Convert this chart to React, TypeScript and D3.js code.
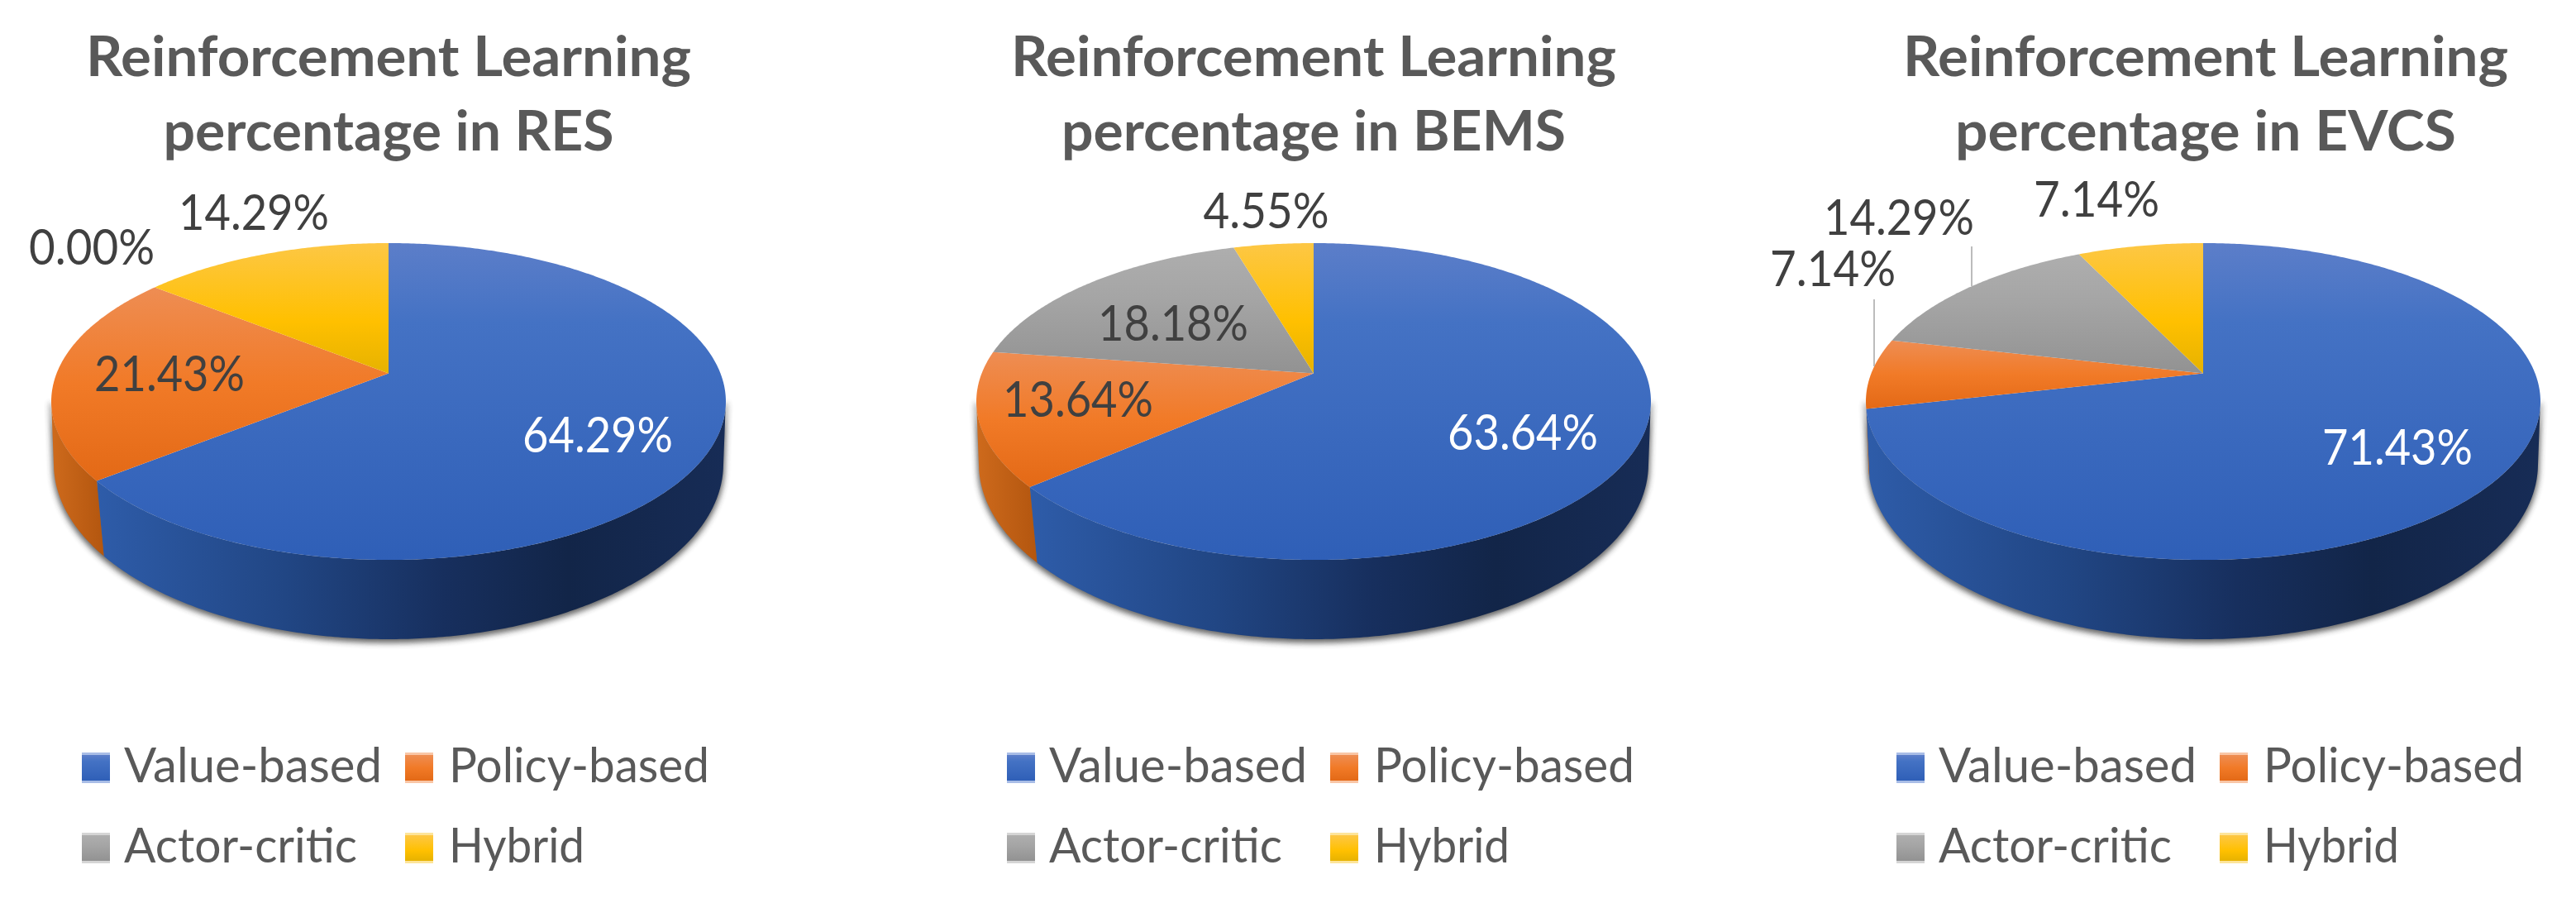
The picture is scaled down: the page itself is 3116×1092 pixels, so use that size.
import React from 'react';
import * as d3 from 'd3';

const categories = ['Value-based', 'Policy-based', 'Actor-critic', 'Hybrid'];
const chartNames = ['RES', 'BEMS', 'EVCS'];
const resValues = [64.29, 21.43, 0, 14.29];
const bemsValues = [63.64, 13.64, 18.18, 4.55];
const evcsValues = [71.43, 7.14, 14.29, 7.14];
const allValues = [resValues, bemsValues, evcsValues];

// layout, in page pixels
const centers = [470, 1589, 2665];
const titleCenters = [470, 1589, 2668];
const subtitleWidths = [545, 610, 606];
const labelPos = [
  [[723, 547], [205, 473], [111, 320], [307, 278]],
  [[1842, 544], [1304, 504], [1419, 412], [1531.5, 276]],
  [[2900, 562], [2217, 346], [2297, 284], [2536, 262]],
];
// leader lines only on the EVCS pie: [x, y1, y2]
const leaders = [[2385, 298, 346], [2267, 362, 443]];

const legendCols = [99, 490];
const legendRows = [910, 1007];
const legendTextOffsets = [51, 53];
const legendTextWidths = [312, 315, 282, 164];

const topStops = [
  ['#5c7ec9', '#4472c4', '#2f5fb7'],
  ['#ee8d53', '#f17a27', '#e36916'],
  ['#aeaeae', '#a5a5a5', '#929292'],
  ['#fdc745', '#ffc000', '#e6b200'],
];
const topMid = [0.25, 0.5, 0.4, 0.6];
const bandColors = ['#a9bde6', '#f9c6a6', '#d5d5d5', '#fde49a'];

// perspective discs: the top face and the bottom face of the cylinder
const topDisc = { apexY: 451.5, a: 185.5, b: 401.5, p: 0.1776 };
const bottomDisc = { apexY: 530.3, a: 207.5, b: 400.7, p: 0.145 };
const wallStart = (100 * Math.PI) / 180;
const wallEnd = (260 * Math.PI) / 180;

type Disc = typeof topDisc;

const project = (disc: Disc, cx: number, t: number): [number, number] => {
  const u = Math.sin(t);
  const v = -Math.cos(t);
  const w = 1 - disc.p * v;
  return [cx + (disc.b * u) / w, disc.apexY + (disc.a * v) / w];
};

const arcPoints = (disc: Disc, cx: number, t0: number, t1: number) => {
  const n = Math.max(2, Math.ceil(Math.abs(t1 - t0) / 0.01));
  return d3.range(n + 1).map(i => project(disc, cx, t0 + ((t1 - t0) * i) / n));
};

const line = d3.line();

const slicePath = (cx: number, t0: number, t1: number) =>
  line([[cx, topDisc.apexY], ...arcPoints(topDisc, cx, t0, t1)]) + 'Z';

const wallPath = (cx: number, t0: number, t1: number) =>
  line([...arcPoints(topDisc, cx, t0, t1), ...arcPoints(bottomDisc, cx, t1, t0)]) + 'Z';

const pieLayout = d3.pie<number>().sort(null).value(d => d).startAngle(0).endAngle(2 * Math.PI);

const font = 'Lato, "Open Sans", sans-serif';

const Pie = ({ index }: { index: number }) => {
  const cx = centers[index];
  const arcs = pieLayout(allValues[index]);
  const offset = cx - centers[0];

  return (
    <g>
      <path
        d={wallPath(cx, wallStart, wallEnd)}
        fill="#303030"
        stroke="#303030"
        strokeWidth={3}
        opacity={0.75}
        transform="translate(0,3)"
        filter="url(#wallShadow)"
      />
      {arcs.map((d, i) => {
        const t0 = Math.max(d.startAngle, wallStart);
        const t1 = Math.min(d.endAngle, wallEnd);
        if (t1 <= t0) return null;
        return <path key={i} d={wallPath(cx, t0, t1)} fill={`url(#wall${i})`} />;
      })}
      {arcs.map((d, i) =>
        d.endAngle > d.startAngle ? (
          <path key={i} d={slicePath(cx, d.startAngle, d.endAngle)} fill={`url(#top${i})`} />
        ) : null
      )}

      <text
        x={titleCenters[index]}
        y={92}
        textAnchor="middle"
        fontFamily={font}
        fontWeight={700}
        fontSize={67}
        fill="#595959"
        textLength={732}
        lengthAdjust="spacingAndGlyphs"
      >
        Reinforcement Learning
      </text>
      <text
        x={titleCenters[index]}
        y={182}
        textAnchor="middle"
        fontFamily={font}
        fontWeight={700}
        fontSize={67}
        fill="#595959"
        textLength={subtitleWidths[index]}
        lengthAdjust="spacingAndGlyphs"
      >
        {`percentage in ${chartNames[index]}`}
      </text>

      {index === 2 &&
        leaders.map(([x, y1, y2], i) => (
          <line key={i} x1={x} x2={x} y1={y1} y2={y2} stroke="#a6a6a6" strokeWidth={1.5} />
        ))}

      {allValues[index].map((v, i) => {
        const label = `${v.toFixed(2)}%`;
        return (
          <text
            key={i}
            x={labelPos[index][i][0]}
            y={labelPos[index][i][1]}
            textAnchor="middle"
            fontFamily={font}
            fontSize={60}
            fill={i === 0 ? '#ffffff' : '#404040'}
            textLength={label.length === 6 ? 182 : 152}
            lengthAdjust="spacingAndGlyphs"
          >
            {label}
          </text>
        );
      })}

      {categories.map((c, i) => {
        const x = legendCols[i % 2] + offset;
        const y = legendRows[Math.floor(i / 2)];
        return (
          <g key={c}>
            <rect x={x} y={y} width={34} height={37} fill={bandColors[i]} />
            <rect x={x} y={y + 3} width={34} height={31} fill={`url(#top${i})`} />
            <text
              x={x + legendTextOffsets[i % 2]}
              y={y + 36}
              fontFamily={font}
              fontSize={58}
              fill="#595959"
              textLength={legendTextWidths[i]}
              lengthAdjust="spacingAndGlyphs"
            >
              {c}
            </text>
          </g>
        );
      })}
    </g>
  );
};

export default function App() {
  return (
    <svg
      width={3116}
      height={1092}
      viewBox="0 0 3116 1092"
      style={{ position: 'absolute', left: 0, top: 0, display: 'block', background: '#ffffff' }}
    >
      <defs>
        <filter id="wallShadow" x="-5%" y="-5%" width="110%" height="115%">
          <feGaussianBlur stdDeviation={3.5} />
        </filter>
        {topStops.map((stops, i) => (
          <linearGradient key={i} id={`top${i}`} x1="0" y1="0" x2="0" y2="1">
            <stop offset="0" stopColor={stops[0]} />
            <stop offset={topMid[i]} stopColor={stops[1]} />
            <stop offset="1" stopColor={stops[2]} />
          </linearGradient>
        ))}
        <linearGradient id="wall0" x1="0" y1="0" x2="1" y2="0">
          <stop offset="0" stopColor="#2e5ca9" />
          <stop offset="0.3" stopColor="#214684" />
          <stop offset="0.55" stopColor="#172f5e" />
          <stop offset="0.75" stopColor="#122548" />
          <stop offset="1" stopColor="#172c56" />
        </linearGradient>
        <linearGradient id="wall1" x1="0" y1="0" x2="1" y2="0">
          <stop offset="0" stopColor="#ce6a1c" />
          <stop offset="1" stopColor="#b3560f" />
        </linearGradient>
        <linearGradient id="wall2" x1="0" y1="0" x2="1" y2="0">
          <stop offset="0" stopColor="#7c7c7c" />
          <stop offset="1" stopColor="#5e5e5e" />
        </linearGradient>
        <linearGradient id="wall3" x1="0" y1="0" x2="1" y2="0">
          <stop offset="0" stopColor="#bf9000" />
          <stop offset="1" stopColor="#a07800" />
        </linearGradient>
      </defs>
      {chartNames.map((_, i) => (
        <Pie key={i} index={i} />
      ))}
    </svg>
  );
}
